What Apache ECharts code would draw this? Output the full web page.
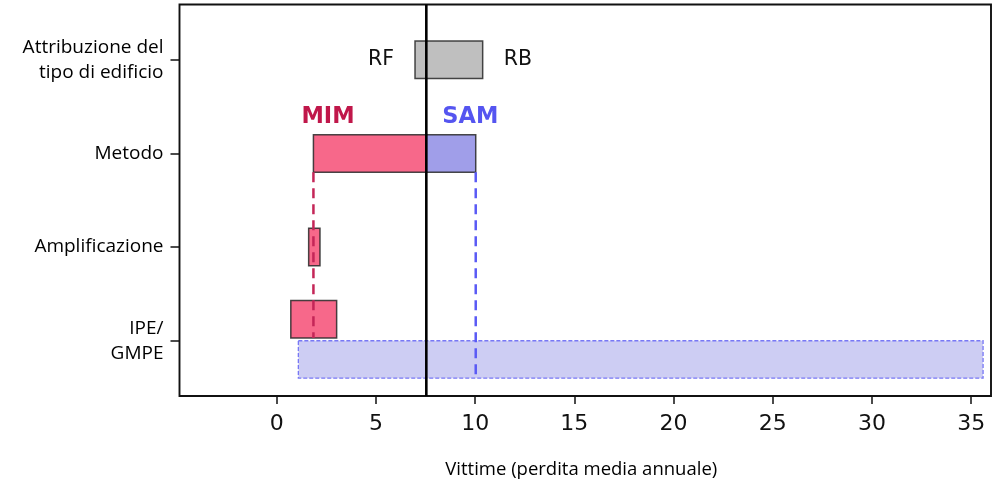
<!DOCTYPE html>
<html>
<head>
<meta charset="utf-8">
<script src="https://cdn.jsdelivr.net/npm/echarts@6/dist/echarts.min.js"></script>
<style>
  html, body { margin: 0; padding: 0; background: #fff; }
  #chart { width: 1004px; height: 482px; }
</style>
</head>
<body>
<div id="chart"></div>
<script>
// Rows of the chart, bottom to top (y = 0, 1, 2, 3)
const categories = ['IPE/\nGMPE', 'Amplificazione', 'Metodo', 'Attribuzione del\ntipo di edificio'];
const rowIndex = [0, 1, 2, 3];
const xTicks = [0, 5, 10, 15, 20, 25, 30, 35];

// Fatalities ranges (average annual loss)
const referenceLoss = 7.54;          // reference estimate (vertical line)
const buildingRange = [6.97, 10.38]; // RF .. RB
const methodMIM = [1.85, 7.54];
const methodSAM = [7.54, 10.03];
const amplificationMIM = [1.61, 2.18];
const ipeMIM = [0.71, 3.02];
const ipeSAM = [1.09, 35.6];
const mimValue = 1.85;
const samValue = 10.03;

// Axis extents
const X_MIN = -4.9, X_MAX = 36.0;
const Y_MIN = -0.59, Y_MAX = 3.59;
const HALF = 0.2; // half height of a bar in row units

function boxSeries(name, range, yLo, yHi, style, z) {
  return {
    type: 'custom', name: name, z: z,
    data: [[range[0], range[1], yLo, yHi]],
    renderItem: function (params, api) {
      const p0 = api.coord([api.value(0), api.value(3)]);
      const p1 = api.coord([api.value(1), api.value(2)]);
      return {
        type: 'rect',
        shape: { x: p0[0], y: p0[1], width: p1[0] - p0[0], height: p1[1] - p0[1] },
        style: style
      };
    }
  };
}

function vLineSeries(name, x, yFrom, yTo, style, z) {
  return {
    type: 'custom', name: name, z: z,
    data: [[x, yFrom, yTo]],
    renderItem: function (params, api) {
      const a = api.coord([api.value(0), api.value(1)]);
      const b = api.coord([api.value(0), api.value(2)]);
      return { type: 'line', shape: { x1: a[0], y1: a[1], x2: b[0], y2: b[1] }, style: style };
    }
  };
}

const edge = 'rgba(40,40,40,0.85)';
const pink = '#f7688a';

const series = [
  boxSeries('IPE SAM', ipeSAM, 0 - 2 * HALF, 0, {
    fill: '#cdcdf3', stroke: '#7878f5', lineWidth: 1.3, lineDash: [4, 2]
  }, 1),
  boxSeries('IPE MIM', ipeMIM, 0.03, 0.03 + 2 * HALF, { fill: pink, stroke: edge, lineWidth: 1.5 }, 2),
  boxSeries('Amplificazione MIM', amplificationMIM, 1 - HALF, 1 + HALF, { fill: pink, stroke: edge, lineWidth: 1.5 }, 2),
  boxSeries('Metodo MIM', methodMIM, 2 - HALF, 2 + HALF, { fill: pink, stroke: edge, lineWidth: 1.5 }, 2),
  boxSeries('Metodo SAM', methodSAM, 2 - HALF, 2 + HALF, { fill: '#a09ee9', stroke: edge, lineWidth: 1.5 }, 2),
  boxSeries('Tipo di edificio', buildingRange, 3 - HALF, 3 + HALF, { fill: '#bfbfbf', stroke: edge, lineWidth: 1.5 }, 2),
  vLineSeries('MIM', mimValue, 2 - HALF, 0.03, { stroke: '#c42658', lineWidth: 2.5, lineDash: [10, 6] }, 3),
  vLineSeries('SAM', samValue, 2 - HALF, 0 - 2 * HALF, { stroke: '#5a5af5', lineWidth: 2.5, lineDash: [10, 6] }, 3),
  vLineSeries('Riferimento', referenceLoss, Y_MIN, Y_MAX, { stroke: '#000', lineWidth: 2.6 }, 4),
  {
    // Text annotations placed next to the bars they describe
    type: 'custom', name: 'etichette', z: 5,
    data: [[0]],
    renderItem: function (params, api) {
      const gL = api.coord([buildingRange[0], 3]);
      const gR = api.coord([buildingRange[1], 3]);
      const mL = api.coord([methodMIM[0], 2 + HALF]);
      const sL = api.coord([referenceLoss, 2 + HALF]);
      const plain = { fontFamily: 'DejaVu Sans', fontSize: 20.5, fill: '#111', verticalAlign: 'middle' };
      const bold = { fontFamily: 'DejaVu Sans', fontSize: 22.5, fontWeight: 'bold', verticalAlign: 'bottom' };
      return {
        type: 'group',
        children: [
          { type: 'text', style: Object.assign({ text: 'RF', x: gL[0] - 21, y: gL[1], align: 'right' }, plain) },
          { type: 'text', style: Object.assign({ text: 'RB', x: gR[0] + 21, y: gR[1], align: 'left' }, plain) },
          { type: 'text', style: Object.assign({ text: 'MIM', x: mL[0] - 12, y: mL[1] - 6, align: 'left', fill: '#c0174a' }, bold) },
          { type: 'text', style: Object.assign({ text: 'SAM', x: sL[0] + 16, y: sL[1] - 6, align: 'left', fill: '#5555f0' }, bold) }
        ]
      };
    }
  }
];

const chart = echarts.init(document.getElementById('chart'), null, { renderer: 'canvas' });
chart.setOption({
  animation: false,
  backgroundColor: '#fff',
  grid: {
    left: 179.5, right: 13, top: 4.5, bottom: 86,
    show: true, borderColor: '#111', borderWidth: 1.9,
    outerBoundsMode: 'none'
  },
  xAxis: {
    type: 'value', min: X_MIN, max: X_MAX,
    axisLine: { show: false, onZero: false },
    splitLine: { show: false },
    axisTick: { show: true, length: 8, lineStyle: { color: '#111', width: 1.5 }, customValues: xTicks },
    axisLabel: {
      customValues: xTicks, margin: 17,
      fontFamily: 'DejaVu Sans', fontSize: 22, color: '#111'
    },
    name: 'Vittime (perdita media annuale)',
    nameLocation: 'middle', nameGap: 64,
    nameTextStyle: { fontFamily: 'Open Sans', fontSize: 18.5, color: '#000', padding: [0, 8, 0, 0] }
  },
  yAxis: {
    type: 'value', min: Y_MIN, max: Y_MAX,
    axisLine: { show: false, onZero: false },
    splitLine: { show: false },
    axisTick: { show: true, length: 9, lineStyle: { color: '#111', width: 1.5 }, customValues: rowIndex },
    axisLabel: {
      customValues: rowIndex, margin: 16,
      fontFamily: 'Open Sans', fontSize: 19, lineHeight: 25, color: '#000', align: 'right',
      formatter: function (v) { return categories[Math.round(v)]; }
    }
  },
  series: series
});
</script>
</body>
</html>
